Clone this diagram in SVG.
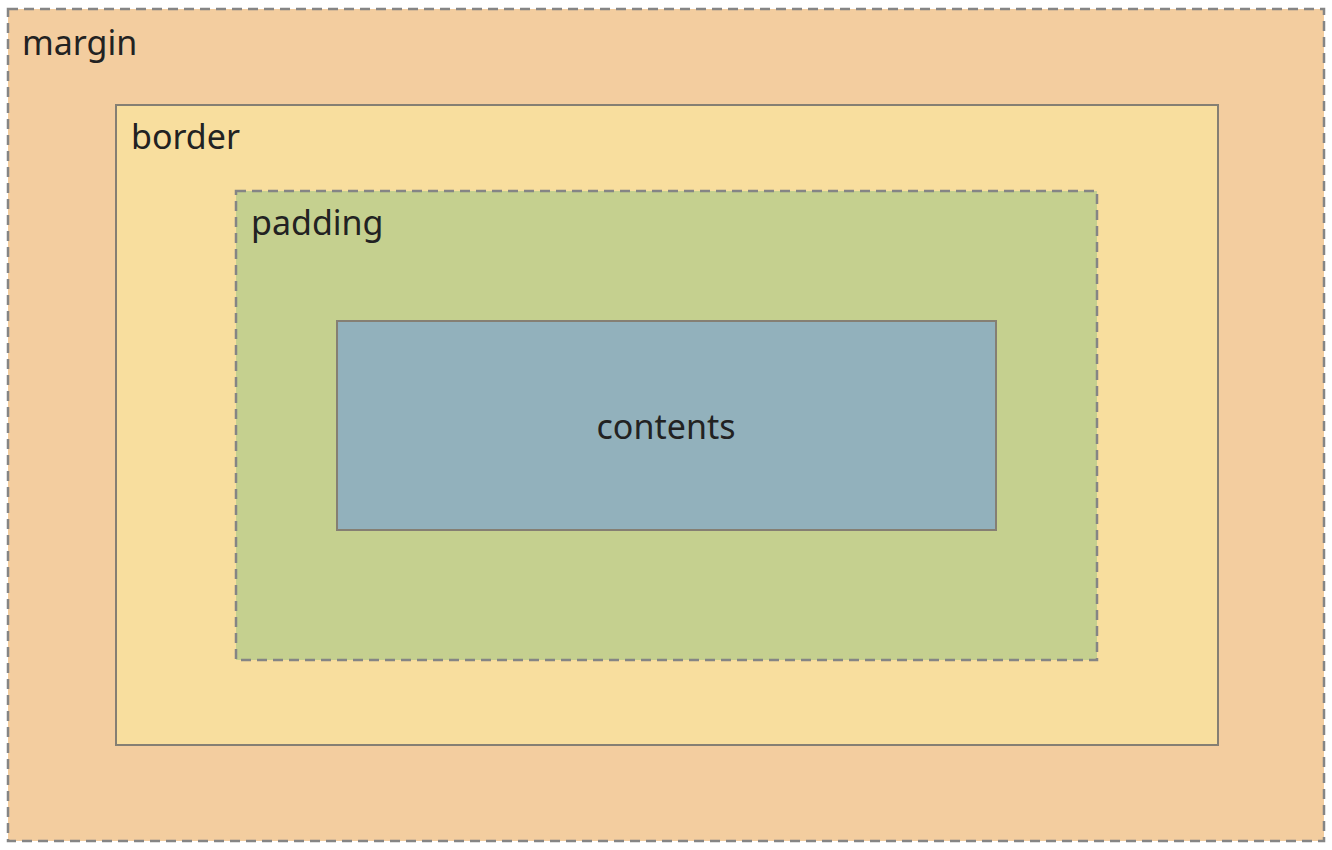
<svg xmlns="http://www.w3.org/2000/svg" width="1332" height="850" viewBox="0 0 1332 850">
<style>
.lbl{font-family:"Noto Sans","Open Sans",sans-serif;font-size:34px;fill:#222}
.dash{stroke:#858585;stroke-width:2.5;stroke-dasharray:10 6}
.solid{stroke:#857f73;stroke-width:2}
</style>
<rect width="1332" height="850" fill="#ffffff"/>
<g id="margin">
<rect x="8" y="9" width="1316" height="832" fill="#F3CD9F" class="dash"/>
<text x="22" y="55" class="lbl">margin</text>
</g>
<g id="border">
<rect x="116" y="105" width="1102" height="640" fill="#F8DE9E" class="solid"/>
<text x="131" y="149" class="lbl">border</text>
</g>
<g id="padding">
<rect x="236" y="191" width="861" height="469" fill="#C5D08F" class="dash"/>
<text x="251" y="235" class="lbl">padding</text>
</g>
<g id="contents">
<rect x="337" y="321" width="659" height="209" fill="#92B1BC" class="solid"/>
<text x="666" y="439" class="lbl" text-anchor="middle">contents</text>
</g>
<g id="connectors"/>
</svg>
